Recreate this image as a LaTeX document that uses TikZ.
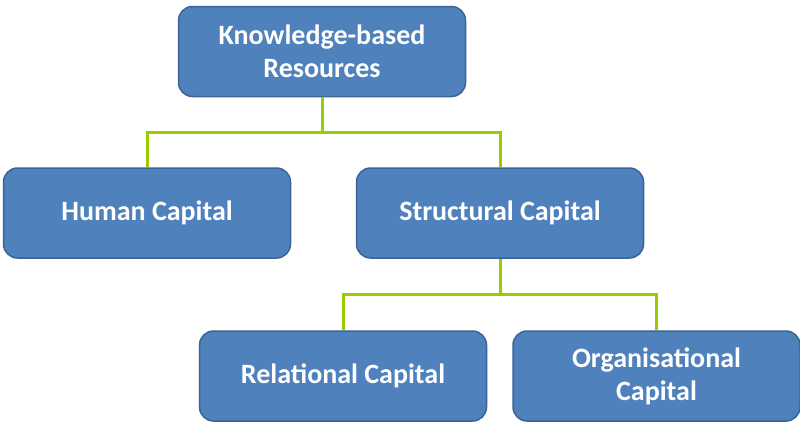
\documentclass[tikz,border=0pt]{standalone}
\usepackage{fontspec}
\setmainfont{Carlito}
\definecolor{boxfill}{HTML}{4F81BD}
\definecolor{boxline}{HTML}{3A6494}
\definecolor{linkgreen}{HTML}{9ACD00}
\begin{document}
\begin{tikzpicture}[x=1pt,y=-1pt,
  box/.style={draw=boxline, line width=1.5pt, fill=boxfill, rounded corners=14pt,
    minimum width=287pt, minimum height=90pt, text=white, align=center,
    font=\bfseries\fontsize{28}{33}\selectfont, inner sep=0pt},
  link/.style={draw=linkgreen, line width=3pt}]
\useasboundingbox (0,0) rectangle (800,424);
\node[box] (kb) at (322,51.5) {Knowledge-based\\Resources};
\node[box] (hc) at (147,213) {Human Capital};
\node[box] (sc) at (500,213) {Structural Capital};
\node[box] (rc) at (343,376) {Relational Capital};
\node[box] (oc) at (656.5,376) {Organisational\\Capital};
\coordinate (j1) at (322,132);
\coordinate (j2) at (500,294);
\draw[link] (kb.south) -- (j1) -| (hc.north);
\draw[link] (j1) -| (sc.north);
\draw[link] (sc.south) -- (j2) -| (rc.north);
\draw[link] (j2) -| (oc.north);
\end{tikzpicture}
\end{document}
